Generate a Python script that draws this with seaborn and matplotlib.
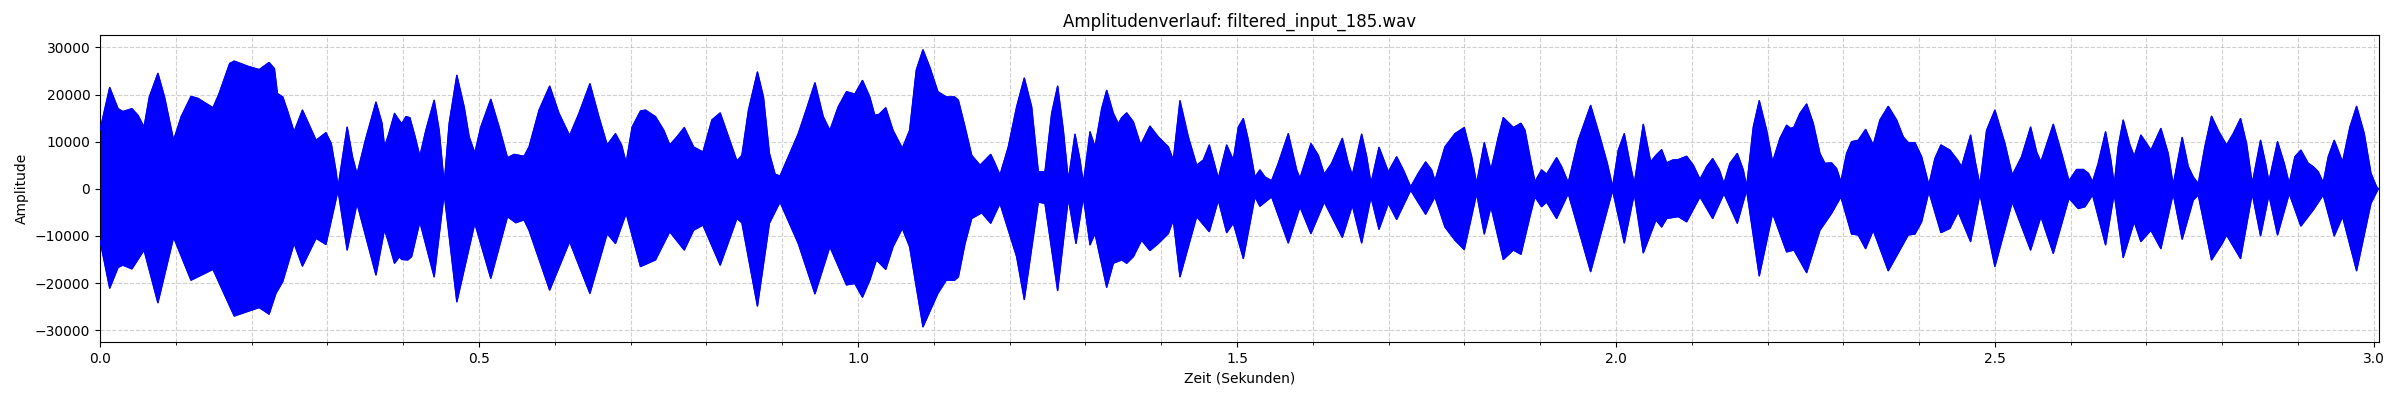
import numpy as np
import pandas as pd
import matplotlib
matplotlib.use("Agg")
import matplotlib.pyplot as plt
import seaborn as sns
from matplotlib.ticker import MultipleLocator

# Envelope of the waveform (time in s, amplitude)
upper_t = [
    0.000, 0.0127, 0.0237, 0.030, 0.042, 0.050, 0.058, 0.065, 0.0763, 0.085,
    0.097, 0.107, 0.120, 0.129, 0.149, 0.157, 0.171, 0.177, 0.195, 0.210,
    0.223, 0.230, 0.234, 0.241, 0.247, 0.256, 0.267, 0.276, 0.285, 0.298,
    0.305, 0.311, 0.314, 0.320, 0.326, 0.333, 0.339, 0.350, 0.364, 0.372,
    0.3753, 0.381, 0.3885, 0.393, 0.398, 0.4035, 0.4087, 0.4157, 0.4219, 0.4298,
    0.4408, 0.4474, 0.454, 0.4606, 0.4707, 0.4803, 0.487, 0.4944, 0.5023, 0.5155,
    0.5265, 0.5375, 0.5463, 0.5594, 0.566, 0.5792, 0.5932, 0.6055, 0.6195, 0.6318,
    0.6463, 0.6581, 0.6691, 0.680, 0.688, 0.6941, 0.702, 0.713, 0.7196, 0.7328,
    0.7438, 0.7516, 0.761, 0.7708, 0.783, 0.7954, 0.8072, 0.8182, 0.8292, 0.8402,
    0.8468, 0.8555, 0.8673, 0.8752, 0.8831, 0.8906, 0.8971, 0.9081, 0.9212, 0.9322,
    0.9432, 0.9541, 0.9629, 0.9739, 0.9848, 0.9958, 1.0059, 1.0155, 1.0221, 1.0278,
    1.0366, 1.0462, 1.0585, 1.0681, 1.0769, 1.0857, 1.0945, 1.1054, 1.1164, 1.1274,
    1.1324, 1.1412, 1.150, 1.161, 1.1751, 1.1807, 1.1873, 1.1983, 1.2093, 1.2194,
    1.2291, 1.2379, 1.2467, 1.2555, 1.2634, 1.2709, 1.2775, 1.2863, 1.2929, 1.2973,
    1.3061, 1.3127, 1.3215, 1.3281, 1.3369, 1.3435, 1.3479, 1.3545, 1.3633, 1.3729,
    1.3852, 1.3962, 1.4094, 1.416, 1.4248, 1.4358, 1.4468, 1.4556, 1.4635, 1.4754,
    1.4864, 1.4952, 1.5018, 1.5084, 1.515, 1.5237, 1.5303, 1.5369, 1.5457, 1.5545,
    1.5677, 1.5787, 1.5831, 1.5976, 1.6073, 1.6152, 1.6249, 1.639, 1.6469, 1.6522,
    1.6645, 1.6711, 1.6768, 1.6874, 1.6997, 1.7107, 1.7195, 1.7292, 1.7393, 1.7489,
    1.7568, 1.7612, 1.7744, 1.7876, 1.7999, 1.8096, 1.8162, 1.8263, 1.8351, 1.8448,
    1.8514, 1.8646, 1.8747, 1.880, 1.8865, 1.8931, 1.9019, 1.9085, 1.9217, 1.9283,
    1.9371, 1.9503, 1.9666, 1.9789, 1.9886, 1.9956, 2.0031, 2.011, 2.0185, 2.0242,
    2.0361, 2.0458, 2.0528, 2.0603, 2.0669, 2.0748, 2.0823, 2.0933, 2.1021, 2.1109,
    2.1197, 2.1276, 2.1364, 2.1425, 2.1504, 2.1601, 2.168, 2.1724, 2.1812, 2.1891,
    2.1988, 2.2067, 2.2164, 2.2252, 2.2305, 2.2349, 2.2428, 2.2516, 2.2603, 2.2691,
    2.2757, 2.2845, 2.2911, 2.2968, 2.3043, 2.3109, 2.3197, 2.3294, 2.3395, 2.3483,
    2.3593, 2.3703, 2.3791, 2.3857, 2.3945, 2.4033, 2.4129, 2.4208, 2.4288, 2.4406,
    2.4507, 2.456, 2.4679, 2.4745, 2.4802, 2.489, 2.500, 2.5132, 2.5229, 2.5352,
    2.5471, 2.555, 2.5607, 2.577, 2.588, 2.5977, 2.6078, 2.6166, 2.6232, 2.6289,
    2.6363, 2.646, 2.653, 2.6574, 2.6627, 2.6693, 2.6781, 2.6838, 2.6926, 2.7014,
    2.7058, 2.719, 2.7286, 2.7352, 2.7471, 2.7551, 2.7617, 2.7683, 2.777, 2.7858,
    2.7955, 2.8056, 2.8144, 2.8241, 2.832, 2.8395, 2.8505, 2.8571, 2.8615, 2.8729,
    2.8817, 2.8883, 2.8958, 2.9037, 2.9134, 2.92, 2.9266, 2.9332, 2.9398, 2.9477,
    2.9587, 2.9684, 2.9772, 2.9873, 2.9961, 3.0036, 3.0058,
]
upper_amp = [
    12500, 21500, 17000, 16400, 17000, 15600, 13100, 19500, 24500, 19500,
    10300, 15300, 19600, 19200, 17200, 20200, 26600, 27100, 26000, 25300,
    26800, 25500, 20200, 19500, 16700, 12100, 16700, 13500, 10300, 11900,
    9600, 4000, 300, 6800, 13100, 6800, 3100, 10300, 18400, 13900,
    8900, 11700, 16000, 14900, 13800, 15300, 15100, 11000, 6900, 12400,
    18800, 12400, 1000, 13900, 24100, 17400, 11000, 7600, 13100, 19000,
    13100, 6600, 7300, 6900, 8900, 16700, 21800, 16000, 11300, 16000,
    22300, 15300, 9300, 11700, 9300, 5500, 13100, 16500, 16700, 15300,
    12400, 9300, 11000, 13000, 8900, 7800, 14600, 16100, 11000, 5900,
    7100, 16700, 24800, 19500, 7500, 3100, 2700, 6800, 11700, 17000,
    22500, 15300, 12400, 17400, 20600, 20100, 23000, 19500, 15600, 15800,
    17200, 12400, 8600, 12400, 25200, 29500, 25900, 20600, 19500, 19500,
    18800, 13100, 7100, 5000, 7300, 5400, 2900, 8900, 17400, 23500,
    17400, 3600, 3600, 16000, 21800, 12400, 1800, 11600, 6100, 1100,
    12100, 8900, 17000, 20900, 16000, 13800, 15100, 16100, 14200, 9300,
    13300, 11000, 8900, 6100, 18700, 11000, 5000, 6100, 9300, 2200,
    9300, 6100, 13100, 14900, 10300, 2500, 4000, 2500, 1700, 5400,
    11700, 4000, 2200, 9600, 7100, 3100, 5400, 10700, 5400, 2900,
    11600, 6800, 1100, 8800, 3600, 6800, 4000, 400, 3300, 5700,
    4000, 1700, 8900, 11700, 13000, 6800, 1100, 9800, 4000, 11000,
    15100, 13000, 13900, 12400, 6800, 1500, 4000, 3100, 6600, 4700,
    1300, 10300, 17700, 11000, 5400, 400, 8200, 11700, 5400, 1100,
    13700, 5700, 7100, 8300, 5500, 6100, 6200, 6900, 5000, 2000,
    4700, 6400, 4000, 1100, 5400, 7500, 4000, 400, 13100, 18700,
    12400, 5700, 10700, 13500, 12800, 13100, 16000, 18000, 13900, 7500,
    5400, 5500, 4300, 1500, 7500, 10000, 10300, 12600, 9300, 14600,
    17500, 14600, 11000, 9800, 9800, 6800, 800, 6400, 9300, 8200,
    6100, 4700, 11400, 5400, 800, 12400, 16700, 9600, 2900, 6800,
    13100, 7800, 5700, 13700, 7500, 1700, 4100, 4100, 3300, 1500,
    5400, 12100, 6100, 800, 8900, 14600, 9300, 6900, 11400, 9300,
    8200, 12800, 7500, 800, 10900, 4700, 2500, 1100, 8900, 15400,
    12100, 9300, 11700, 14900, 9600, 1100, 10300, 5400, 1500, 10000,
    5400, 1100, 6800, 8200, 5400, 4700, 3600, 1300, 6800, 10300,
    5700, 13100, 17500, 11700, 3300, 400, 0,
]

lower_t = [
    0.000, 0.0127, 0.0237, 0.030, 0.042, 0.058, 0.0763, 0.097, 0.120, 0.149,
    0.177, 0.210, 0.223, 0.232, 0.241, 0.256, 0.267, 0.285, 0.298, 0.314,
    0.326, 0.339, 0.364, 0.3753, 0.381, 0.3885, 0.395, 0.398, 0.406, 0.411,
    0.4219, 0.4408, 0.454, 0.4707, 0.4944, 0.5155, 0.5375, 0.5485, 0.5594, 0.566,
    0.5932, 0.6195, 0.6463, 0.6691, 0.680, 0.6941, 0.713, 0.7328, 0.7516, 0.7708,
    0.783, 0.7954, 0.8182, 0.8402, 0.8468, 0.8673, 0.8831, 0.8971, 0.9212, 0.9432,
    0.9629, 0.9848, 0.9958, 1.0059, 1.0155, 1.0243, 1.0366, 1.0462, 1.0585, 1.0681,
    1.0857, 1.1054, 1.1164, 1.1274, 1.1324, 1.1412, 1.150, 1.1632, 1.1751, 1.1873,
    1.2093, 1.2194, 1.2379, 1.2467, 1.2634, 1.2775, 1.2876, 1.2973, 1.3061, 1.3127,
    1.3281, 1.3369, 1.3479, 1.3545, 1.3633, 1.3742, 1.3852, 1.3962, 1.4094, 1.416,
    1.4248, 1.4468, 1.4635, 1.4754, 1.4864, 1.4952, 1.5084, 1.5237, 1.5303, 1.5457,
    1.5677, 1.5831, 1.5976, 1.6152, 1.639, 1.6522, 1.6645, 1.6768, 1.6874, 1.6997,
    1.7107, 1.7292, 1.7489, 1.7612, 1.7744, 1.7876, 1.7999, 1.8162, 1.8263, 1.8351,
    1.8514, 1.8646, 1.8747, 1.8865, 1.8931, 1.9019, 1.9085, 1.9217, 1.9371, 1.9666,
    1.9956, 2.011, 2.0242, 2.0361, 2.0528, 2.0603, 2.0669, 2.0823, 2.0933, 2.1109,
    2.1276, 2.1425, 2.1601, 2.1724, 2.1891, 2.2067, 2.2252, 2.2349, 2.2516, 2.2691,
    2.2845, 2.2968, 2.3109, 2.3197, 2.3294, 2.3395, 2.3593, 2.3857, 2.3945, 2.4033,
    2.4129, 2.4288, 2.4406, 2.4516, 2.4679, 2.4802, 2.500, 2.5229, 2.5471, 2.5607,
    2.577, 2.5977, 2.610, 2.6188, 2.6289, 2.646, 2.6574, 2.6693, 2.6838, 2.6926,
    2.7058, 2.719, 2.7352, 2.7471, 2.7617, 2.7683, 2.7858, 2.7999, 2.8056, 2.8241,
    2.8395, 2.8505, 2.8615, 2.8729, 2.8883, 2.9037, 2.920, 2.9332, 2.9477, 2.9587,
    2.9772, 2.9961, 3.0058,
]
lower_amp = [
    -11000, -21100, -16700, -16200, -17000, -13000, -24200, -10300, -19400, -17100,
    -27000, -25200, -26600, -22200, -19700, -11600, -16400, -10500, -11800, -300,
    -13000, -3100, -18300, -8600, -11600, -15800, -14400, -15000, -15100, -14400,
    -7000, -18700, -1000, -24000, -7300, -19000, -5900, -7200, -6600, -8800,
    -21500, -11200, -22200, -9500, -11600, -5200, -16500, -15100, -9100, -13000,
    -8800, -7700, -16200, -6300, -7200, -24900, -7300, -2800, -11600, -22300,
    -12300, -20400, -20100, -23000, -19400, -15100, -17100, -12300, -8400, -12300,
    -29300, -22200, -19400, -19400, -18700, -11600, -6300, -5100, -7300, -3100,
    -14400, -23500, -2800, -3100, -21600, -2000, -11600, -1700, -11900, -9500,
    -20900, -15800, -15100, -15800, -14400, -10900, -13100, -11600, -9500, -6600,
    -18700, -5900, -9100, -2400, -9300, -7300, -14800, -1700, -3700, -1700,
    -11500, -3800, -9500, -2800, -10300, -3500, -11500, -1700, -8600, -3100,
    -6500, -300, -5400, -1700, -8100, -10900, -12900, -1000, -9600, -3800,
    -15000, -13000, -13900, -5900, -1700, -3800, -2800, -6300, -1000, -17600,
    -300, -11500, -1000, -13600, -6600, -8100, -6300, -5900, -7000, -1700,
    -6300, -1000, -7300, -300, -18500, -5200, -13400, -13000, -17800, -8800,
    -5200, -1700, -9600, -9800, -12700, -8800, -17400, -9800, -9600, -7000,
    -600, -9300, -8400, -4900, -11200, -1000, -16500, -2800, -13000, -5900,
    -13700, -2000, -4200, -3800, -1300, -11900, -1000, -14600, -7000, -11200,
    -8800, -12700, -1000, -10700, -2400, -1300, -15100, -11600, -9800, -14800,
    -1000, -10000, -1300, -9800, -1000, -7900, -4500, -1300, -10000, -5900,
    -17400, -3100, 0,
]

upper = pd.DataFrame({"t": upper_t, "amp": upper_amp})
lower = pd.DataFrame({"t": lower_t, "amp": lower_amp})

fig, ax = plt.subplots(figsize=(24, 4), dpi=100)

# filled waveform body between the two envelopes
poly_t = np.concatenate([upper["t"].values, lower["t"].values[::-1]])
poly_a = np.concatenate([upper["amp"].values, lower["amp"].values[::-1]])
ax.fill(poly_t, poly_a, color="blue", linewidth=0.8, zorder=2)

sns.lineplot(data=upper, x="t", y="amp", color="blue", linewidth=1,
             estimator=None, ax=ax, zorder=3)
sns.lineplot(data=lower, x="t", y="amp", color="blue", linewidth=1,
             estimator=None, ax=ax, zorder=3)

ax.set_xlim(0, 3.0066)
ax.set_ylim(-32600, 32600)
ax.xaxis.set_major_locator(MultipleLocator(0.5))
ax.xaxis.set_minor_locator(MultipleLocator(0.1))
ax.grid(True, which="both", linestyle="--", alpha=0.6)

ax.set_title("Amplitudenverlauf: filtered_input_185.wav")
ax.set_xlabel("Zeit (Sekunden)")
ax.set_ylabel("Amplitude")

plt.subplots_adjust(left=0.0417, right=0.9912, top=0.912, bottom=0.144)
plt.savefig("out.png")
